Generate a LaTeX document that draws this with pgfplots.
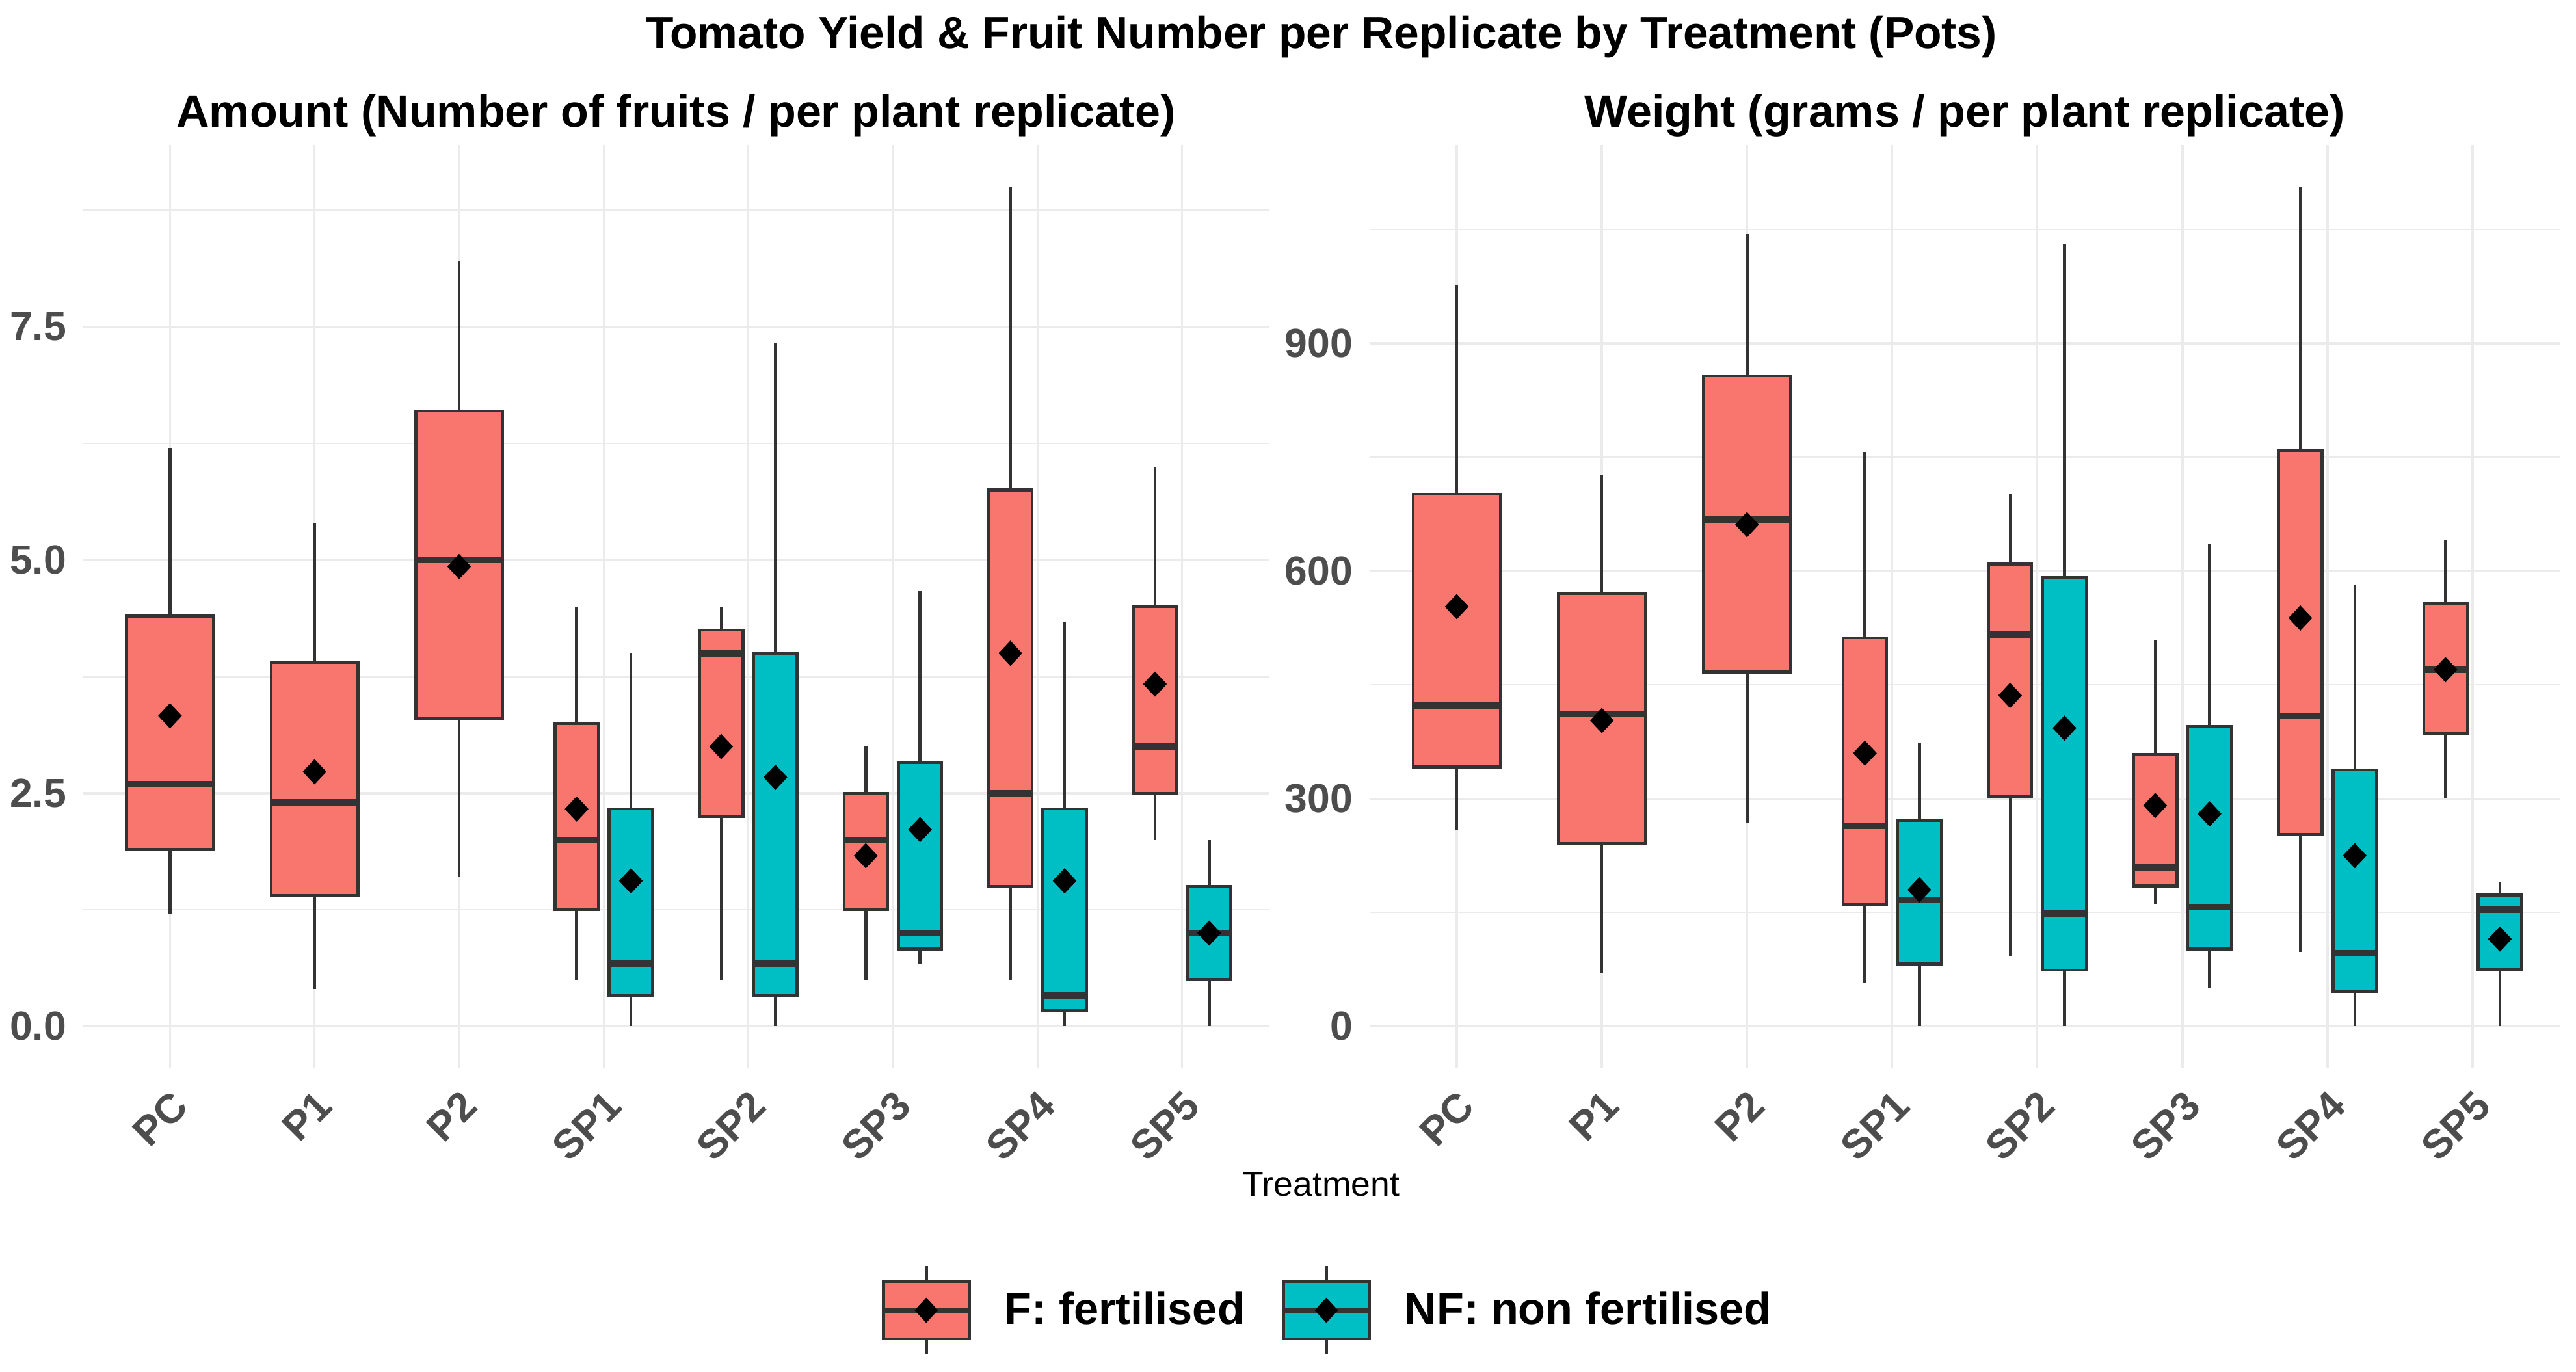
\documentclass[border=0pt]{standalone}
\usepackage{fontspec}
\setmainfont{Liberation Sans}
\usepackage{pgfplots}
\pgfplotsset{compat=1.18}
\usepgfplotslibrary{statistics}
\usetikzlibrary{plotmarks}

\definecolor{fcol}{HTML}{F8766D}
\definecolor{nfcol}{HTML}{00BFC4}
\definecolor{edge}{HTML}{333333}
\definecolor{ticktxt}{HTML}{4D4D4D}
\definecolor{gridc}{HTML}{EBEBEB}

% one box: position, width, lower whisker, lower quartile, median, upper quartile, upper whisker, fill
\newcommand{\bx}[8]{%
  \addplot[forget plot, fill=#8, boxplot prepared={draw position=#1, box extend=#2,
    lower whisker=#3, lower quartile=#4, median=#5,
    upper quartile=#6, upper whisker=#7}] coordinates {};}

\pgfplotsset{
  panel/.style={
    scale only axis, width=364.6pt, height=284pt,
    xmin=0.4, xmax=8.6,
    xtick={1,...,8}, xticklabels={PC,P1,P2,SP1,SP2,SP3,SP4,SP5},
    axis line style={draw=none},
    major tick length=0pt, minor tick length=0pt,
    xmajorgrids, ymajorgrids, yminorgrids,
    major grid style={gridc, line width=0.7pt},
    minor grid style={gridc, line width=0.45pt},
    tick label style={font=\fontsize{12.5}{14}\selectfont\bfseries, text=ticktxt},
    xticklabel style={rotate=45, anchor=north east, inner sep=0pt},
    yticklabel style={anchor=east, inner sep=0pt},
    xticklabel shift=6pt, yticklabel shift=5pt,
    every axis title shift=0pt,
    title style={font=\fontsize{14}{16}\selectfont\bfseries, anchor=base,
      at={(0.5,1)}, yshift=5.4pt, inner sep=0pt},
    boxplot/draw direction=y,
    boxplot/whisker extend=0,
    boxplot/every box/.style={draw=edge, line width=0.9pt},
    boxplot/every whisker/.style={draw=edge, line width=0.9pt},
    boxplot/every median/.style={draw=edge, line width=2pt},
  },
  means/.style={only marks, forget plot, mark=diamond*, mark size=3.6pt,
    mark options={fill=black, draw=black, xscale=1.25}},
}

\begin{document}
\begin{tikzpicture}
\path[use as bounding box] (0pt,0pt) rectangle (792.2pt,422pt);

\node[anchor=base, font=\fontsize{13.9}{16}\selectfont\bfseries] at (406.4pt,407pt)
  {Tomato Yield \& Fruit Number per Replicate by Treatment (Pots)};

% ---- Amount ----
\begin{axis}[panel, at={(25.6pt,93.4pt)}, anchor=south west,
  title={Amount (Number of fruits / per plant replicate)},
  ymin=-0.45, ymax=9.45,
  ytick={0,2.5,5,7.5}, yticklabels={0.0,2.5,5.0,7.5},
  minor ytick={1.25,3.75,6.25,8.75},
  legend columns=2,
  legend style={at={(1.048,-0.262)}, anchor=center, draw=none, fill=none,
    font=\fontsize{13.7}{16}\selectfont\bfseries, inner sep=0pt,
    nodes={inner sep=0pt},
    /tikz/every odd column/.append style={column sep=10pt},
    /tikz/every even column/.append style={column sep=11pt}},
  legend cell align=left,
]
\addlegendimage{legend image code/.code={
  \draw[edge, line width=0.9pt] (13.2pt,-13.6pt) -- (13.2pt,13.6pt);
  \draw[fill=fcol, draw=edge, line width=0.9pt] (0pt,-8.8pt) rectangle (26.4pt,8.8pt);
  \draw[edge, line width=1.8pt] (0pt,0pt) -- (26.4pt,0pt);
  \fill[black] (13.2pt,3.6pt) -- (16.5pt,0pt) -- (13.2pt,-3.6pt) -- (9.9pt,0pt) -- cycle;}}
\addlegendentry{F: fertilised}
\addlegendimage{legend image code/.code={
  \draw[edge, line width=0.9pt] (13.2pt,-13.6pt) -- (13.2pt,13.6pt);
  \draw[fill=nfcol, draw=edge, line width=0.9pt] (0pt,-8.8pt) rectangle (26.4pt,8.8pt);
  \draw[edge, line width=1.8pt] (0pt,0pt) -- (26.4pt,0pt);
  \fill[black] (13.2pt,3.6pt) -- (16.5pt,0pt) -- (13.2pt,-3.6pt) -- (9.9pt,0pt) -- cycle;}}
\addlegendentry{NF: non fertilised}

\bx{1}{0.6}{1.2}{1.9}{2.6}{4.4}{6.2}{fcol}
\bx{2}{0.6}{0.4}{1.4}{2.4}{3.9}{5.4}{fcol}
\bx{3}{0.6}{1.6}{3.3}{5.0}{6.6}{8.2}{fcol}
\bx{3.8125}{0.3}{0.5}{1.25}{2.0}{3.25}{4.5}{fcol}
\bx{4.1875}{0.3}{0}{0.33}{0.67}{2.33}{4.0}{nfcol}
\bx{4.8125}{0.3}{0.5}{2.25}{4.0}{4.25}{4.5}{fcol}
\bx{5.1875}{0.3}{0}{0.33}{0.67}{4.0}{7.33}{nfcol}
\bx{5.8125}{0.3}{0.5}{1.25}{2.0}{2.5}{3.0}{fcol}
\bx{6.1875}{0.3}{0.67}{0.83}{1.0}{2.83}{4.67}{nfcol}
\bx{6.8125}{0.3}{0.5}{1.5}{2.5}{5.75}{9.0}{fcol}
\bx{7.1875}{0.3}{0}{0.17}{0.33}{2.33}{4.33}{nfcol}
\bx{7.8125}{0.3}{2.0}{2.5}{3.0}{4.5}{6.0}{fcol}
\bx{8.1875}{0.3}{0}{0.5}{1.0}{1.5}{2.0}{nfcol}

\addplot[means] coordinates {
  (1,3.33) (2,2.73) (3,4.93)
  (3.8125,2.33) (4.1875,1.56) (4.8125,3.0) (5.1875,2.67)
  (5.8125,1.83) (6.1875,2.11) (6.8125,4.0) (7.1875,1.56)
  (7.8125,3.67) (8.1875,1.0)};
\end{axis}

% ---- Weight ----
\begin{axis}[panel, at={(421.2pt,93.4pt)}, anchor=south west, width=366pt,
  title={Weight (grams / per plant replicate)},
  ymin=-55.3, ymax=1161.3,
  ytick={0,300,600,900}, yticklabels={0,300,600,900},
  minor ytick={150,450,750,1050},
]
\bx{1}{0.6}{259}{342}{423}{701}{977}{fcol}
\bx{2}{0.6}{70}{241}{412}{570}{726}{fcol}
\bx{3}{0.6}{268}{467}{668}{857}{1044}{fcol}
\bx{3.8125}{0.3}{57}{160}{264}{512}{757}{fcol}
\bx{4.1875}{0.3}{0}{82}{167}{271}{373}{nfcol}
\bx{4.8125}{0.3}{93}{303}{516}{609}{701}{fcol}
\bx{5.1875}{0.3}{0}{74}{149}{591}{1030}{nfcol}
\bx{5.8125}{0.3}{161}{185}{209}{358}{508}{fcol}
\bx{6.1875}{0.3}{50}{102}{157}{395}{635}{nfcol}
\bx{6.8125}{0.3}{98}{253}{409}{759}{1106}{fcol}
\bx{7.1875}{0.3}{0}{46}{96}{338}{581}{nfcol}
\bx{7.8125}{0.3}{301}{386}{470}{557}{641}{fcol}
\bx{8.1875}{0.3}{0}{75}{154}{173}{190}{nfcol}

\addplot[means] coordinates {
  (1,553) (2,403) (3,661)
  (3.8125,360) (4.1875,180) (4.8125,436) (5.1875,393)
  (5.8125,291) (6.1875,280) (6.8125,538) (7.1875,225)
  (7.8125,470) (8.1875,115)};
\end{axis}

\node[anchor=base, font=\fontsize{10.7}{12}\selectfont] at (406.2pt,54pt) {Treatment};
\end{tikzpicture}
\end{document}
